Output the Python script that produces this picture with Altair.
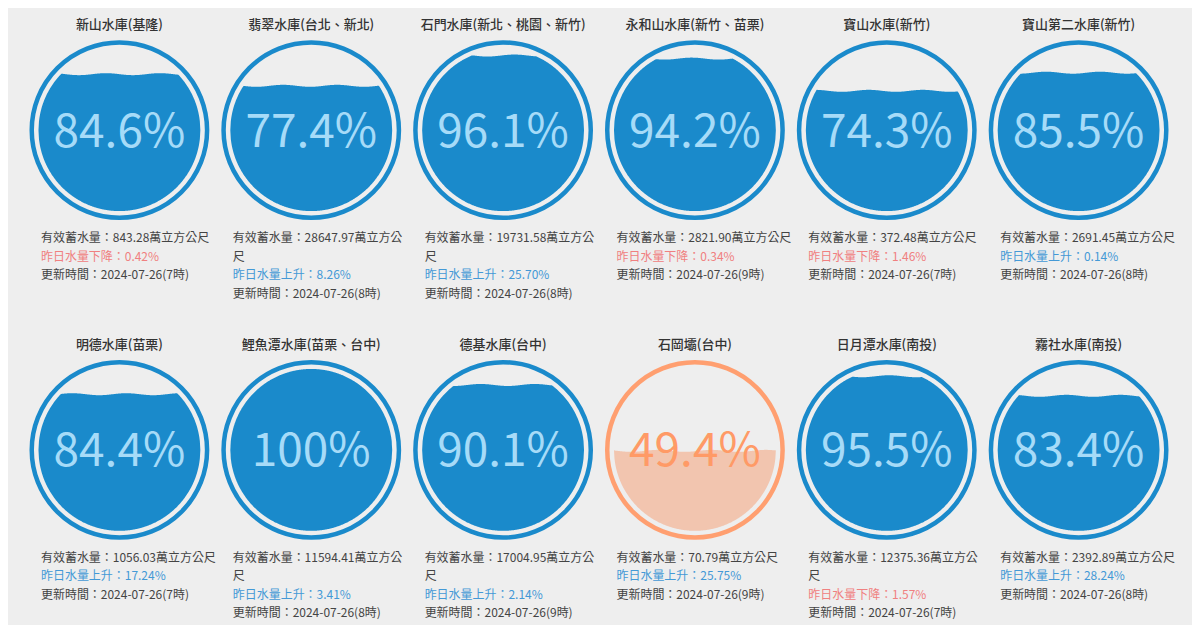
import altair as alt
import numpy as np
import pandas as pd

# ---------------- data ----------------
names = ["新山水庫(基隆)", "翡翠水庫(台北、新北)", "石門水庫(新北、桃園、新竹)",
         "永和山水庫(新竹、苗栗)", "寶山水庫(新竹)", "寶山第二水庫(新竹)",
         "明德水庫(苗栗)", "鯉魚潭水庫(苗栗、台中)", "德基水庫(台中)",
         "石岡壩(台中)", "日月潭水庫(南投)", "霧社水庫(南投)"]
fill_pct = [84.6, 77.4, 96.1, 94.2, 74.3, 85.5, 84.4, 100, 90.1, 49.4, 95.5, 83.4]
storage = ["843.28", "28647.97", "19731.58", "2821.90", "372.48", "2691.45",
           "1056.03", "11594.41", "17004.95", "70.79", "12375.36", "2392.89"]
change_pct = [-0.42, 8.26, 25.70, -0.34, -1.46, 0.14, 17.24, 3.41, 2.14, 25.75, -1.57, 28.24]
update_date = "2024-07-26"
update_hour = [7, 8, 8, 9, 7, 8, 7, 8, 9, 9, 7, 8]

# ---------------- layout / style ----------------
W, H = 192, 296
CX, CY = 96.5, 122.0
R_RING = 87.75
RING_W = 4.5
R_FILL = 81.0
WAVE_AMP = 1.0
WAVE_LEN = 2 * R_FILL / 3
TXT_X = 18
TXT_Y0 = 230
LINE_H = 18.5
FONT = "Noto Sans CJK TC"

BLUE = "#1A8ACB"
BLUE_TXT = "#A6DBF8"
ORANGE = "#FF9F70"
ORANGE_FILL = "#F2C5AF"
ORANGE_TXT = "#FF9A66"

xs = alt.Scale(domain=[0, W], nice=False, zero=False)
ys = alt.Scale(domain=[0, H], nice=False, zero=False, reverse=True)
X = alt.X("x:Q", scale=xs, axis=None)
Y = alt.Y("y:Q", scale=ys, axis=None)


def make_panel(i):
    name = names[i]
    p = fill_pct[i]
    low = p < 50
    level = CY + R_FILL - p / 100.0 * 2 * R_FILL
    amp = WAVE_AMP if p < 100 else 0.0
    phase = i * 1.7
    fr = []
    for dx in np.arange(-R_FILL, R_FILL + 0.01, 0.5):
        h = np.sqrt(max(R_FILL ** 2 - dx ** 2, 0.0))
        top_c, bot_c = CY - h, CY + h
        wave = level + amp * np.sin(2 * np.pi * dx / WAVE_LEN + phase)
        top = min(max(top_c, wave), bot_c)
        fr.append({"x": CX + dx, "y": top, "y2": bot_c})
    fill_df = pd.DataFrame(fr)

    ring_df = pd.DataFrame([{"x": CX, "y": CY}])
    label = "100%" if p == 100 else f"{p:.1f}%"
    pct_df = pd.DataFrame([{"x": CX, "y": CY + 16.5, "label": label}])
    title_df = pd.DataFrame([{"x": CX, "y": 17, "label": name}])

    st = f"有效蓄水量：{storage[i]}萬立方公尺"
    lines = [(st[:-1], "dark"), (st[-1], "dark")] if len(storage[i]) >= 8 else [(st, "dark")]
    c = change_pct[i]
    if c < 0:
        lines.append((f"昨日水量下降：{abs(c):.2f}%", "down"))
    else:
        lines.append((f"昨日水量上升：{c:.2f}%", "up"))
    lines.append((f"更新時間：{update_date}({update_hour[i]}時)", "dark"))
    info_df = pd.DataFrame([{"x": TXT_X, "y": TXT_Y0 + k * LINE_H, "label": t, "tone": tone}
                            for k, (t, tone) in enumerate(lines)])

    fill = alt.Chart(fill_df).mark_area(
        color=ORANGE_FILL if low else BLUE, opacity=1
    ).encode(x=X, y=Y, y2="y2:Q")

    ring = alt.Chart(ring_df).mark_point(
        shape="circle", filled=False, size=(2 * R_RING) ** 2,
        strokeWidth=RING_W, opacity=1, color=ORANGE if low else BLUE
    ).encode(x=X, y=Y)

    pct = alt.Chart(pct_df).mark_text(
        font=FONT, fontSize=46, align="center", baseline="alphabetic",
        color=ORANGE_TXT if low else BLUE_TXT
    ).encode(x=X, y=Y, text="label:N")

    title = alt.Chart(title_df).mark_text(
        font=FONT, fontSize=13, fontWeight=500, align="center",
        baseline="middle", color="#333333"
    ).encode(x=X, y=Y, text="label:N")

    info = alt.Chart(info_df).mark_text(
        font=FONT, fontSize=12, align="left", baseline="middle"
    ).encode(
        x=X, y=Y, text="label:N",
        color=alt.Color("tone:N", scale=alt.Scale(domain=["dark", "down", "up"],
                                                  range=["#444444", "#F08080", "#4499D6"]),
                        legend=None),
    )
    return alt.layer(fill, ring, pct, title, info).properties(width=W, height=H)


chart = alt.concat(*[make_panel(i) for i in range(12)], columns=6,
                   spacing={"row": 24, "column": 0}, bounds="flush").properties(
    padding={"left": 14, "top": 0, "right": 16, "bottom": 1},
).configure(background="#EEEEEE").configure_view(stroke=None)

chart.save("out.html", embed_options={"renderer": "svg", "actions": False})
